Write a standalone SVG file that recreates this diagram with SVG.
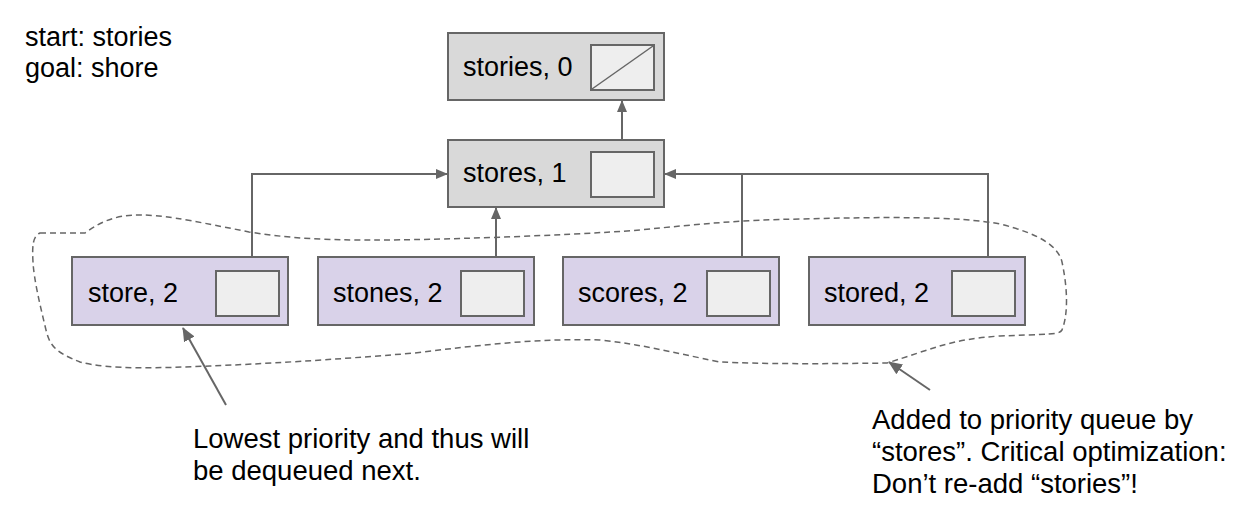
<svg xmlns="http://www.w3.org/2000/svg" width="1250" height="524" viewBox="0 0 1250 524">
<defs>
<style>
text{font-family:"Liberation Sans",Arial,sans-serif;fill:#000;}
.lbl{font-size:27px;}
.ann{font-size:27.5px;}
.gray{fill:#d9d9d9;stroke:#666;stroke-width:2;}
.purple{fill:#d9d2e9;stroke:#666;stroke-width:2;}
.inner{fill:#eeeeee;stroke:#666;stroke-width:2;}
.conn{fill:none;stroke:#666;stroke-width:2;}
.blob{fill:none;stroke:#666;stroke-width:1.5;stroke-dasharray:6 4;}
</style>
<marker id="ah" markerWidth="12" markerHeight="12" refX="11" refY="6" orient="auto" markerUnits="userSpaceOnUse" viewBox="0 0 12 12">
<path d="M0,1 L12,6 L0,11 Z" fill="#666"/>
</marker>
<marker id="ahs" markerWidth="14" markerHeight="14" refX="13" refY="7" orient="auto" markerUnits="userSpaceOnUse" viewBox="0 0 14 14">
<path d="M0,1 L14,7 L0,13 Z" fill="#666"/>
</marker>
</defs>
<rect width="1250" height="524" fill="#fff"/>

<g id="info">
<text class="lbl" x="25" y="46">start: stories</text>
<text class="lbl" x="25" y="77">goal: shore</text>
</g>

<path id="queue-outline" class="blob" d="M40,233 L85,233 C100,222 115,215 139,215 C160,215 180,218 249,232 C300,240 340,240 376,240 C430,240 560,236 640,230 C700,224 740,220 800,219 C880,217 960,216 1000,224 C1040,234 1058,246 1062,262 C1068,290 1068,315 1062,330 C1059,335 1050,334 1000,336 C950,339 930,350 887,363 C820,364 760,364 720,362 C670,352 640,344 600,340 C540,338 480,345 415,353 C330,360 260,364 210,366 C160,368 110,370 80,362 C55,352 50,346 46,330 C40,305 34,280 33,262 C32,245 33,236 40,233 Z"/>

<g id="connectors">
<path class="conn" d="M252,296 L252,174 L447,174" marker-end="url(#ah)"/>
<path class="conn" d="M496,296 L496,208" marker-end="url(#ah)"/>
<path class="conn" d="M988,296 L988,174 L742,174"/>
<path class="conn" d="M742,296 L742,174 L665,174" marker-end="url(#ah)"/>
<path class="conn" d="M622,174 L622,101" marker-end="url(#ah)"/>
<path class="conn" d="M226,405 L183,328" marker-end="url(#ahs)"/>
<path class="conn" d="M930,390 L889,362" marker-end="url(#ahs)"/>
</g>

<g id="node-stories">
<rect class="gray" x="448" y="33" width="216" height="67"/>
<rect class="inner" x="591" y="45" width="63" height="45"/>
<line x1="592" y1="89" x2="653" y2="46" stroke="#666" stroke-width="1.5"/>
<text class="lbl" x="463" y="76">stories, 0</text>
</g>

<g id="node-stores">
<rect class="gray" x="448" y="140" width="216" height="67"/>
<rect class="inner" x="591" y="152" width="63" height="45"/>
<text class="lbl" x="463" y="182">stores, 1</text>
</g>

<g id="node-store">
<rect class="purple" x="72" y="257" width="216" height="68"/>
<rect class="inner" x="216" y="271" width="63" height="45"/>
<text class="lbl" x="88" y="302">store, 2</text>
</g>

<g id="node-stones">
<rect class="purple" x="318" y="257" width="216" height="68"/>
<rect class="inner" x="461" y="271" width="63" height="45"/>
<text class="lbl" x="333" y="302">stones, 2</text>
</g>

<g id="node-scores">
<rect class="purple" x="563" y="257" width="216" height="68"/>
<rect class="inner" x="707" y="271" width="63" height="45"/>
<text class="lbl" x="578" y="302">scores, 2</text>
</g>

<g id="node-stored">
<rect class="purple" x="809" y="257" width="216" height="68"/>
<rect class="inner" x="952" y="271" width="63" height="45"/>
<text class="lbl" x="824" y="302">stored, 2</text>
</g>

<g id="note-lowest">
<text class="ann" x="193" y="448">Lowest priority and thus will</text>
<text class="ann" x="193" y="480">be dequeued next.</text>
</g>

<g id="note-added">
<text class="ann" x="872" y="429">Added to priority queue by</text>
<text class="ann" x="872" y="461">“stores”. Critical optimization:</text>
<text class="ann" x="872" y="493">Don’t re-add “stories”!</text>
</g>
</svg>
